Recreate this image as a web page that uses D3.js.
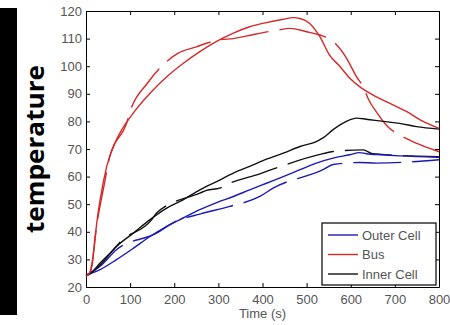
<!DOCTYPE html>
<html>
<head>
<meta charset="utf-8">
<script src="https://cdn.jsdelivr.net/npm/d3@7"></script>
<style>
  body { margin: 0; background: #fff; }
  svg { display: block; }
  .tick text { font-family: "Liberation Sans", Arial, sans-serif; font-size: 13px; fill: #555; }
  .tick line, .domain { stroke: #000; }
</style>
</head>
<body>
<div id="chart"></div>
<script>
// x ticks / y ticks
const xTicks = [0, 100, 200, 300, 400, 500, 600, 700, 800];
const yTicks = [20, 30, 40, 50, 60, 70, 80, 90, 100, 110, 120];

// Bus (red)
const busSolidT = [0, 8, 14, 20, 25, 32, 47, 69, 107, 145, 183, 220, 258, 296, 334, 371, 409, 447, 469, 485, 507, 530, 552, 575, 598, 620, 650, 688, 726, 764, 800];
const busSolidV = [24, 25, 28, 37, 44, 51.6, 63.7, 73.3, 83, 90.2, 96.2, 101, 105.3, 109, 112, 114.3, 115.8, 117, 117.6, 117.3, 115.5, 110.7, 104, 100, 95.6, 92.6, 89.6, 86.6, 83.6, 80, 77.5];
const busDashT = [0, 8, 14, 24, 40, 54, 92, 100, 140, 183, 209, 250, 277, 300, 334, 380, 432, 462, 500, 530, 556, 590, 613, 630, 639, 660, 684, 711, 750, 800];
const busDashV = [24, 25, 29, 42, 56, 67.3, 79.3, 83.6, 94, 101.7, 104.7, 107, 108.5, 109.5, 110, 111.5, 113, 113.7, 112.5, 111.3, 109.5, 103, 96.2, 92, 88.4, 83, 78.1, 75.1, 72, 69];

// Inner Cell (black)
const innerSolidT = [0, 10, 32, 69, 107, 145, 183, 220, 258, 296, 334, 371, 409, 447, 485, 522, 537, 560, 590, 613, 635, 673, 711, 749, 800];
const innerSolidV = [24.3, 25, 28, 34.7, 39.5, 44.4, 48.6, 51.6, 55.2, 58.2, 61.3, 63.7, 66.3, 68.5, 70.9, 72.7, 74, 77, 80, 81.2, 80.8, 80, 79.3, 78.1, 77.2];
const innerDashT = [0, 10, 32, 62, 77, 149, 160, 258, 273, 303, 326, 394, 420, 537, 560, 628, 650, 800];
const innerDashV = [24.3, 25, 28.7, 33.5, 36.2, 44.4, 46.8, 54, 55, 55.8, 57.6, 61, 62.5, 68.3, 69.1, 69.7, 68.3, 67.2];

// Outer Cell (blue)
const outerSolidT = [0, 10, 32, 69, 107, 145, 183, 220, 258, 296, 334, 371, 409, 447, 485, 522, 560, 598, 620, 635, 673, 711, 800];
const outerSolidV = [24, 24.8, 26.3, 29.9, 34, 38.3, 42, 45, 48, 50.6, 52.8, 55.2, 57.6, 60, 62.5, 64.9, 66.7, 67.9, 68.7, 68.3, 67.9, 67.5, 67];
const outerDashT = [0, 10, 32, 69, 160, 200, 260, 326, 394, 424, 537, 560, 620, 658, 800];
const outerDashV = [24, 25, 27.5, 33.5, 39.5, 43.5, 46.5, 49.2, 52.8, 55.8, 62.5, 64.4, 65.1, 64.9, 66.1];

const legendNames = ["Outer Cell", "Bus", "Inner Cell"];
const legendColors = ["#1a1ab4", "#d62828", "#111"];

const width = 450, height = 325;
const plotLeft = 86, plotRight = 439, plotTop = 11, plotBottom = 287;

const svg = d3.select("#chart").append("svg")
  .attr("width", width)
  .attr("height", height);

const x = d3.scaleLinear().domain([0, 800]).range([plotLeft, plotRight]);
const y = d3.scaleLinear().domain([20, 120]).range([plotBottom, plotTop]);

// black side bar with rotated label
svg.append("rect")
  .attr("x", 0).attr("y", 8)
  .attr("width", 17).attr("height", 307)
  .attr("fill", "#000");

svg.append("text")
  .attr("transform", "translate(44,149) rotate(-90)")
  .attr("text-anchor", "middle")
  .attr("font-family", "'Open Sans', 'DejaVu Sans', sans-serif")
  .attr("font-weight", "bold")
  .attr("font-size", 25)
  .attr("textLength", 168)
  .attr("lengthAdjust", "spacingAndGlyphs")
  .attr("fill", "#000")
  .text("temperature");

// axes, ticks pointing inward on all four sides
svg.append("g")
  .attr("transform", "translate(0," + plotBottom + ")")
  .call(d3.axisBottom(x).tickValues(xTicks).tickSizeInner(-4).tickSizeOuter(0).tickPadding(8));
svg.append("g")
  .attr("transform", "translate(" + plotLeft + ",0)")
  .call(d3.axisLeft(y).tickValues(yTicks).tickSizeInner(-4).tickSizeOuter(0).tickPadding(4));
svg.append("g")
  .attr("transform", "translate(0," + plotTop + ")")
  .call(d3.axisTop(x).tickValues(xTicks).tickSizeInner(-4).tickSizeOuter(0).tickFormat(""));
svg.append("g")
  .attr("transform", "translate(" + plotRight + ",0)")
  .call(d3.axisRight(y).tickValues(yTicks).tickSizeInner(-4).tickSizeOuter(0).tickFormat(""));

svg.append("text")
  .attr("x", (plotLeft + plotRight) / 2)
  .attr("y", 318)
  .attr("text-anchor", "middle")
  .attr("font-family", "'Liberation Sans', Arial, sans-serif")
  .attr("font-size", 13)
  .attr("fill", "#555")
  .text("Time (s)");

const line = d3.line()
  .x(d => x(d[0]))
  .y(d => y(d[1]))
  .curve(d3.curveMonotoneX);

const series = [
  [outerDashT, outerDashV, legendColors[0], "48,11"],
  [innerDashT, innerDashV, legendColors[2], "48,11"],
  [busDashT, busDashV, legendColors[1], "48,11"],
  [outerSolidT, outerSolidV, legendColors[0], null],
  [innerSolidT, innerSolidV, legendColors[2], null],
  [busSolidT, busSolidV, legendColors[1], null]
];

svg.selectAll("path.series")
  .data(series)
  .enter()
  .append("path")
  .attr("class", "series")
  .attr("fill", "none")
  .attr("stroke", d => d[2])
  .attr("stroke-width", 1.4)
  .attr("stroke-dasharray", d => d[3])
  .attr("d", d => line(d[0].map((t, i) => [t, d[1][i]])));

// legend
const lg = svg.append("g");
lg.append("rect")
  .attr("x", 322).attr("y", 223)
  .attr("width", 114).attr("height", 62)
  .attr("fill", "#fff")
  .attr("stroke", "#000")
  .attr("stroke-width", 1.2);

legendNames.forEach((name, i) => {
  const ly = 235 + i * 19.5;
  lg.append("line")
    .attr("x1", 328).attr("x2", 358)
    .attr("y1", ly).attr("y2", ly)
    .attr("stroke", legendColors[i])
    .attr("stroke-width", 1.4);
  lg.append("text")
    .attr("x", 362).attr("y", ly + 4.5)
    .attr("font-family", "'Liberation Sans', Arial, sans-serif")
    .attr("font-size", 13)
    .attr("fill", "#555")
    .text(name);
});
</script>
</body>
</html>
